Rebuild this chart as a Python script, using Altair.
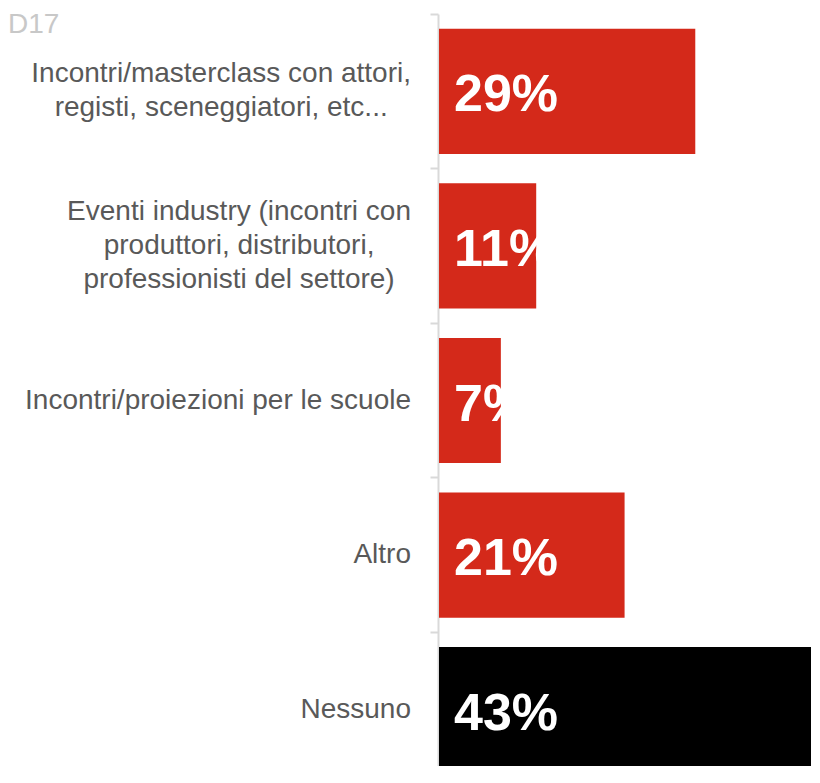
import altair as alt
import pandas as pd

header_label = "D17"
categories = ["c1", "c2", "c3", "c4", "c5"]
labels = [
    "Incontri/masterclass con attori,\nregisti, sceneggiatori, etc...",
    "Eventi industry (incontri con\nproduttori, distributori,\nprofessionisti del settore)",
    "Incontri/proiezioni per le scuole",
    "Altro",
    "Nessuno",
]
values = [29, 11, 7, 21, 43]
colors = ["#D4291A", "#D4291A", "#D4291A", "#D4291A", "#000000"]

FONT = "Liberation Sans, Arial, sans-serif"
LABEL_SIZE = 28
LINE_H = 34
LABEL_RIGHT = -28  # right edge of the label block, px left of the axis

# Arial / Liberation Sans advance widths (per 1000 em) to centre lines in a right-aligned block
_W = {" ": 278, "(": 333, ")": 333, ",": 278, ".": 278, "/": 278, "a": 556, "b": 556,
      "c": 500, "d": 556, "e": 556, "f": 278, "g": 556, "h": 556, "i": 222, "j": 222,
      "k": 500, "l": 222, "m": 833, "n": 556, "o": 556, "p": 556, "q": 556, "r": 333,
      "s": 500, "t": 278, "u": 556, "v": 500, "w": 722, "x": 500, "y": 500, "z": 500,
      "A": 667, "E": 667, "I": 278, "N": 722}


def text_width(s):
    return sum(_W.get(ch, 556) for ch in s) * LABEL_SIZE / 1000.0


nlines = [lab.count("\n") + 1 for lab in labels]
block_w = [max(text_width(line) for line in lab.split("\n")) for lab in labels]

df = pd.DataFrame({
    "cat": categories,
    "label": labels,
    "nlines": nlines,
    "xc": [LABEL_RIGHT - w / 2 for w in block_w],
    "value": values,
    "color": colors,
    "pct": [f"{v}%" for v in values],
})

y_enc = alt.Y(
    "cat:N",
    sort=categories,
    scale=alt.Scale(range=[0, 773], paddingInner=0.19, paddingOuter=0.095),
    axis=alt.Axis(
        title=None, labels=False, domainColor="#d9d9d9", domainWidth=2,
        tickColor="#d9d9d9", tickWidth=2, tickSize=8, bandPosition=0,
        tickOffset=-15, offset=1, grid=False,
    ),
)

base = alt.Chart(df)

bars = base.mark_bar().encode(
    x=alt.X("value:Q", scale=alt.Scale(domain=[0, 43], range=[0, 380]), axis=None),
    y=y_enc,
    color=alt.Color("color:N", scale=None),
)

text_layers = []
for n in sorted(set(nlines)):
    text_layers.append(
        base.transform_filter(alt.datum.nlines == n).mark_text(
            align="center", baseline="middle", fontSize=LABEL_SIZE, font=FONT,
            color="#595959", lineBreak="\n", lineHeight=LINE_H,
            dy=-(n - 1) * LINE_H / 2,
        ).encode(x=alt.X("xc:Q", scale=None, axis=None), y=y_enc, text="label:N")
    )

pct_text = base.mark_text(
    align="left", baseline="middle", fontSize=52, font=FONT, fontWeight="bold",
    color="white", dy=4,
).encode(x=alt.value(15), y=y_enc, text="pct:N")

head = alt.Chart(pd.DataFrame({"t": [header_label]})).mark_text(
    align="left", baseline="alphabetic", fontSize=28, font=FONT, color="#c8c8c8",
).encode(x=alt.value(-431), y=alt.value(19), text="t:N")

chart = alt.layer(bars, *text_layers, pct_text, head).properties(
    width=372,
    height=752,
    padding={"left": 431, "top": 6, "right": 0, "bottom": 0},
    autosize=alt.AutoSizeParams(type="none"),
).configure_view(stroke=None)

chart.save("out.html", embed_options={"renderer": "svg", "actions": False})
